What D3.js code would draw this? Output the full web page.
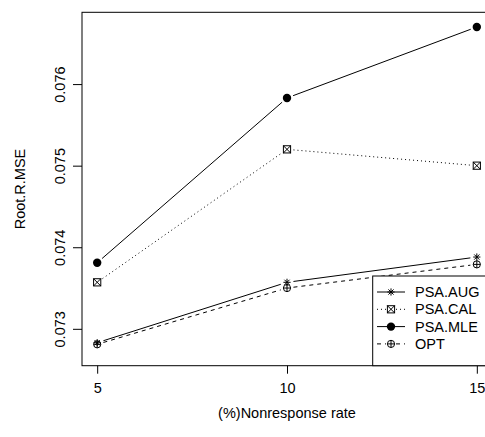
<!DOCTYPE html>
<html>
<head>
<meta charset="utf-8">
<script src="https://cdn.jsdelivr.net/npm/d3@7"></script>
<style>
  body { margin: 0; background: #fff; }
  text { font-family: "Liberation Sans", Arial, sans-serif; fill: #000; }
</style>
</head>
<body>
<div id="chart"></div>
<script>
// data
const rates = [5, 10, 15];
const psaAug = [0.07283, 0.07357, 0.07388];
const psaCal = [0.07357, 0.07520, 0.07500];
const psaMle = [0.07381, 0.07583, 0.07670];
const opt = [0.07281, 0.07350, 0.07379];
const yTicks = [0.073, 0.074, 0.075, 0.076];
const xTicks = [5, 10, 15];
const seriesNames = ["PSA.AUG", "PSA.CAL", "PSA.MLE", "OPT"];

const svgWidth = 485;
const svgHeight = 437;

const margin = { top: 12.3, left: 82, bottom: 365.7 };

const svg = d3.select("#chart")
  .append("svg")
  .attr("width", svgWidth)
  .attr("height", svgHeight);

const xScale = d3.scaleLinear()
  .domain([4.6, 15.4])
  .range([margin.left, 492]);

const yScale = d3.scaleLinear()
  .domain([0.072548, 0.07688])
  .range([margin.bottom, margin.top]);

const fontSize = "14.5px";

// plot box (right edge runs off the window, like the original)
svg.append("rect")
  .attr("x", margin.left)
  .attr("y", margin.top)
  .attr("width", xScale(15.4) - margin.left)
  .attr("height", margin.bottom - margin.top)
  .attr("fill", "none")
  .attr("stroke", "#000")
  .attr("stroke-width", 1);

// axes
const xAxis = d3.axisBottom(xScale).tickValues(xTicks).tickSize(8).tickPadding(9).tickFormat(d3.format("d"));
const yAxis = d3.axisLeft(yScale).tickValues(yTicks).tickSize(9).tickFormat(d3.format(".3f"));

const gx = svg.append("g")
  .attr("transform", `translate(0,${margin.bottom})`)
  .call(xAxis);
gx.select(".domain").remove();
gx.selectAll("text").style("font-size", fontSize).attr("font-family", null);

const gy = svg.append("g")
  .attr("transform", `translate(${margin.left},0)`)
  .call(yAxis);
gy.select(".domain").remove();
gy.selectAll(".tick text")
  .style("font-size", fontSize)
  .attr("font-family", null)
  .attr("x", null).attr("dy", null)
  .attr("text-anchor", "middle")
  .attr("transform", "translate(-22,0) rotate(-90)")
  .attr("dy", "0.35em");

// axis titles
svg.append("text")
  .attr("x", 287)
  .attr("y", 418)
  .attr("text-anchor", "middle")
  .style("font-size", fontSize)
  .text("(%)Nonresponse rate");

svg.append("text")
  .attr("transform", `translate(25,${(margin.top + margin.bottom) / 2}) rotate(-90)`)
  .attr("text-anchor", "middle")
  .style("font-size", fontSize)
  .text("Root.R.MSE");

// series styles
const series = [
  { name: seriesNames[0], values: psaAug, dash: null, sym: "star" },
  { name: seriesNames[1], values: psaCal, dash: "1,3", sym: "boxx" },
  { name: seriesNames[2], values: psaMle, dash: null, sym: "dot" },
  { name: seriesNames[3], values: opt, dash: "4,4", sym: "oplus" }
];

function drawSymbol(g, type, x, y) {
  const s = 3.6;
  if (type === "star") {
    const p = d3.path();
    p.moveTo(x - s, y); p.lineTo(x + s, y);
    p.moveTo(x, y - s); p.lineTo(x, y + s);
    p.moveTo(x - s * 0.72, y - s * 0.72); p.lineTo(x + s * 0.72, y + s * 0.72);
    p.moveTo(x - s * 0.72, y + s * 0.72); p.lineTo(x + s * 0.72, y - s * 0.72);
    g.append("path").attr("d", p.toString()).attr("stroke", "#000").attr("fill", "none");
  } else if (type === "boxx") {
    g.append("rect").attr("x", x - s).attr("y", y - s).attr("width", 2 * s).attr("height", 2 * s)
      .attr("fill", "none").attr("stroke", "#000");
    const p = d3.path();
    p.moveTo(x - s, y - s); p.lineTo(x + s, y + s);
    p.moveTo(x - s, y + s); p.lineTo(x + s, y - s);
    g.append("path").attr("d", p.toString()).attr("stroke", "#000").attr("fill", "none");
  } else if (type === "dot") {
    g.append("circle").attr("cx", x).attr("cy", y).attr("r", 4.2).attr("fill", "#000");
  } else if (type === "oplus") {
    g.append("circle").attr("cx", x).attr("cy", y).attr("r", s).attr("fill", "none").attr("stroke", "#000");
    const p = d3.path();
    p.moveTo(x - s, y); p.lineTo(x + s, y);
    p.moveTo(x, y - s); p.lineTo(x, y + s);
    g.append("path").attr("d", p.toString()).attr("stroke", "#000").attr("fill", "none");
  }
}

// lines with gaps around the points (type = "b")
const gap = 6.5;
series.forEach(s => {
  const g = svg.append("g");
  const pts = s.values.map((v, i) => [xScale(rates[i]), yScale(v)]);
  for (let i = 0; i < pts.length - 1; i++) {
    const [x1, y1] = pts[i];
    const [x2, y2] = pts[i + 1];
    const len = Math.hypot(x2 - x1, y2 - y1);
    const ux = (x2 - x1) / len, uy = (y2 - y1) / len;
    g.append("line")
      .attr("x1", x1 + ux * gap).attr("y1", y1 + uy * gap)
      .attr("x2", x2 - ux * gap).attr("y2", y2 - uy * gap)
      .attr("stroke", "#000")
      .attr("stroke-width", 1)
      .attr("stroke-dasharray", s.dash);
  }
  pts.forEach(([x, y]) => drawSymbol(g, s.sym, x, y));
});

// legend
const legX = 372.7, legY = 276;
svg.append("rect")
  .attr("x", legX)
  .attr("y", legY)
  .attr("width", 130)
  .attr("height", margin.bottom - legY)
  .attr("fill", "#fff")
  .attr("stroke", "#000");

series.forEach((s, i) => {
  const y = 292 + i * 17.3;
  const g = svg.append("g");
  if (s.dash === "1,3") {
    g.append("line").attr("x1", 377).attr("x2", 386).attr("y1", y).attr("y2", y)
      .attr("stroke", "#000").attr("stroke-dasharray", s.dash);
    g.append("line").attr("x1", 396).attr("x2", 405).attr("y1", y).attr("y2", y)
      .attr("stroke", "#000").attr("stroke-dasharray", s.dash);
  } else if (s.dash) {
    g.append("line").attr("x1", 377).attr("x2", 386).attr("y1", y).attr("y2", y)
      .attr("stroke", "#000").attr("stroke-dasharray", "4,4");
    g.append("line").attr("x1", 396).attr("x2", 405).attr("y1", y).attr("y2", y)
      .attr("stroke", "#000").attr("stroke-dasharray", "4,4");
  } else {
    g.append("line").attr("x1", 377).attr("x2", 405).attr("y1", y).attr("y2", y)
      .attr("stroke", "#000");
  }
  drawSymbol(g, s.sym, 391, y);
  g.append("text")
    .attr("x", 415)
    .attr("y", y)
    .attr("dy", "0.35em")
    .style("font-size", fontSize)
    .text(s.name);
});
</script>
</body>
</html>
